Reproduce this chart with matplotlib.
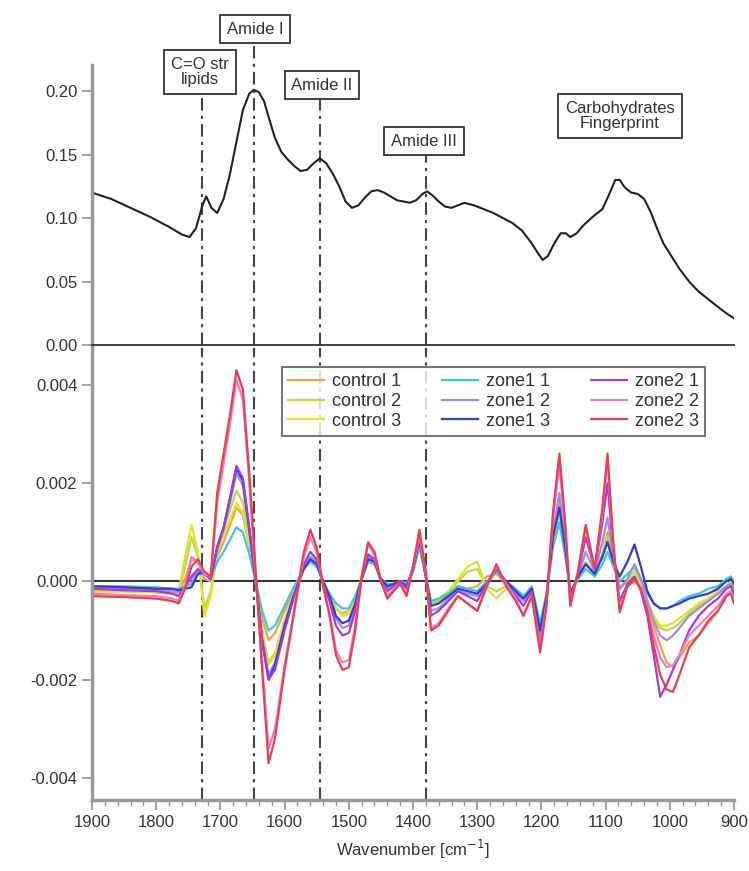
import matplotlib
matplotlib.use("Agg")
import matplotlib.pyplot as plt
import matplotlib.ticker as mticker

plt.rcParams["font.family"] = ["Liberation Sans", "DejaVu Sans"]
plt.rcParams["axes.unicode_minus"] = False

# --- top: mean absorbance spectrum ---
top_wn = [1900, 1870, 1840, 1810, 1780, 1760, 1748, 1738, 1728, 1722,
          1714, 1705, 1695, 1685, 1675, 1665, 1655, 1648, 1640, 1632,
          1624, 1615, 1605, 1595, 1585, 1575, 1565, 1555, 1545, 1535,
          1525, 1515, 1505, 1495, 1485, 1475, 1465, 1455, 1445, 1435,
          1425, 1415, 1405, 1395, 1385, 1378, 1370, 1360, 1350, 1340,
          1330, 1320, 1305, 1290, 1275, 1260, 1245, 1230, 1215, 1205,
          1198, 1190, 1180, 1170, 1162, 1155, 1145, 1135, 1120, 1105,
          1095, 1085, 1078, 1070, 1060, 1050, 1040, 1030, 1020, 1010,
          1000, 985, 970, 955, 940, 925, 912, 900]
top_abs = [0.120, 0.115, 0.108, 0.101, 0.093, 0.087, 0.085, 0.092, 0.110, 0.117,
           0.108, 0.104, 0.115, 0.135, 0.160, 0.185, 0.198, 0.201, 0.199, 0.192,
           0.178, 0.163, 0.152, 0.146, 0.141, 0.137, 0.138, 0.143, 0.147, 0.143,
           0.135, 0.125, 0.113, 0.108, 0.110, 0.116, 0.121, 0.122, 0.120, 0.117,
           0.114, 0.113, 0.112, 0.114, 0.119, 0.121, 0.118, 0.113, 0.109, 0.108,
           0.110, 0.112, 0.110, 0.107, 0.104, 0.100, 0.096, 0.090, 0.080, 0.072,
           0.067, 0.070, 0.080, 0.088, 0.088, 0.085, 0.088, 0.094, 0.101, 0.107,
           0.118, 0.130, 0.130, 0.124, 0.120, 0.119, 0.115, 0.105, 0.092, 0.080,
           0.072, 0.060, 0.050, 0.042, 0.036, 0.030, 0.025, 0.021]

# --- bottom: second derivative spectra (units of 1e-3) ---
wn = [1900, 1850, 1800, 1775, 1765, 1755, 1745, 1735, 1725, 1715,
      1705, 1695, 1685, 1675, 1665, 1655, 1645, 1635, 1625, 1615,
      1600, 1585, 1570, 1560, 1550, 1540, 1530, 1520, 1510, 1500,
      1490, 1480, 1470, 1460, 1450, 1440, 1430, 1420, 1410, 1400,
      1390, 1380, 1372, 1360, 1345, 1330, 1315, 1300, 1285, 1270,
      1255, 1240, 1228, 1215, 1202, 1192, 1182, 1172, 1163, 1155,
      1143, 1131, 1117, 1105, 1097, 1088, 1078, 1066, 1055, 1045,
      1035, 1025, 1015, 1005, 995, 985, 970, 955, 940, 925,
      912, 905, 900]

control1 = [-0.20, -0.20, -0.22, -0.25, -0.25, 0.05, 0.45, 0.40, 0.05, 0.00,
            0.50, 0.80, 1.15, 1.50, 1.35, 0.70, 0.00, -0.75, -1.20, -1.05,
            -0.60, -0.15, 0.30, 0.50, 0.40, 0.00, -0.30, -0.55, -0.65, -0.60,
            -0.35, 0.05, 0.45, 0.40, 0.05, -0.10, -0.05, 0.00, -0.10, 0.20,
            0.75, 0.10, -0.45, -0.40, -0.30, -0.10, -0.15, -0.10, 0.10, 0.15,
            -0.05, -0.20, -0.35, -0.15, -1.00, -0.30, 0.90, 1.60, 0.70, -0.25,
            0.05, 0.35, 0.15, 0.55, 1.00, 0.40, -0.15, 0.00, 0.20, -0.05,
            -0.45, -0.90, -1.30, -1.65, -1.75, -1.55, -1.25, -1.10, -0.85, -0.60,
            -0.30, -0.20, -0.35]
control2 = [-0.20, -0.20, -0.22, -0.25, -0.25, 0.30, 0.90, 0.50, -0.55, -0.20,
            0.70, 1.05, 1.45, 1.85, 1.60, 0.80, 0.00, -1.00, -1.65, -1.45,
            -0.80, -0.20, 0.30, 0.45, 0.35, 0.00, -0.30, -0.55, -0.70, -0.65,
            -0.35, 0.05, 0.40, 0.35, 0.05, -0.10, -0.05, 0.00, -0.05, 0.20,
            0.75, 0.10, -0.45, -0.40, -0.25, 0.00, 0.20, 0.25, -0.10, -0.20,
            -0.10, -0.20, -0.35, -0.15, -0.95, -0.25, 0.80, 1.40, 0.60, -0.25,
            0.05, 0.40, 0.15, 0.55, 0.90, 0.40, -0.10, 0.00, 0.20, -0.05,
            -0.40, -0.75, -0.95, -1.00, -0.95, -0.85, -0.65, -0.50, -0.40, -0.25,
            -0.10, -0.05, -0.20]
control3 = [-0.20, -0.20, -0.22, -0.25, -0.20, 0.50, 1.15, 0.60, -0.70, -0.30,
            0.60, 0.95, 1.25, 1.60, 1.40, 0.75, 0.00, -1.00, -1.70, -1.50,
            -0.80, -0.20, 0.30, 0.45, 0.35, 0.00, -0.30, -0.55, -0.70, -0.65,
            -0.35, 0.05, 0.40, 0.35, 0.05, -0.10, -0.05, 0.00, -0.05, 0.20,
            0.70, 0.10, -0.40, -0.35, -0.20, 0.05, 0.30, 0.40, -0.15, -0.35,
            -0.15, -0.20, -0.35, -0.15, -0.90, -0.25, 0.70, 1.20, 0.55, -0.25,
            0.05, 0.35, 0.15, 0.50, 0.80, 0.35, -0.10, 0.00, 0.20, -0.05,
            -0.40, -0.70, -0.90, -0.90, -0.85, -0.75, -0.60, -0.45, -0.35, -0.20,
            -0.10, 0.00, -0.15]
zone1_1 = [-0.10, -0.10, -0.12, -0.15, -0.15, -0.10, -0.05, 0.15, 0.15, 0.05,
           0.40, 0.60, 0.85, 1.10, 1.00, 0.55, 0.00, -0.60, -1.00, -0.90,
           -0.50, -0.10, 0.25, 0.40, 0.30, 0.00, -0.25, -0.45, -0.55, -0.55,
           -0.30, 0.05, 0.40, 0.35, 0.05, -0.05, -0.05, 0.00, -0.05, 0.20,
           0.70, 0.10, -0.40, -0.35, -0.25, -0.10, -0.15, -0.20, 0.00, 0.20,
           0.00, -0.15, -0.30, -0.10, -0.85, -0.25, 0.70, 1.20, 0.55, -0.20,
           0.05, 0.25, 0.10, 0.35, 0.60, 0.30, 0.00, 0.15, 0.30, 0.05,
           -0.25, -0.45, -0.55, -0.55, -0.50, -0.40, -0.30, -0.25, -0.15, -0.10,
           0.05, 0.10, 0.00]
zone1_2 = [-0.15, -0.15, -0.18, -0.20, -0.22, -0.10, 0.05, 0.20, 0.15, 0.05,
           0.65, 1.05, 1.60, 2.20, 1.95, 1.00, 0.00, -1.15, -1.90, -1.65,
           -0.90, -0.25, 0.30, 0.50, 0.40, -0.05, -0.35, -0.75, -0.95, -0.90,
           -0.50, 0.05, 0.50, 0.40, 0.00, -0.15, -0.10, 0.00, -0.10, 0.25,
           0.80, 0.10, -0.60, -0.55, -0.35, -0.20, -0.25, -0.30, -0.05, 0.25,
           -0.05, -0.25, -0.40, -0.15, -1.10, -0.35, 1.00, 1.80, 0.80, -0.30,
           0.10, 0.60, 0.20, 0.80, 1.30, 0.50, -0.15, 0.05, 0.35, 0.05,
           -0.40, -0.80, -1.10, -1.20, -1.10, -0.95, -0.70, -0.55, -0.40, -0.25,
           -0.10, -0.05, -0.15]
zone1_3 = [-0.10, -0.12, -0.15, -0.15, -0.18, -0.15, -0.12, 0.15, 0.20, 0.05,
           0.70, 1.10, 1.70, 2.30, 2.05, 1.05, 0.00, -1.20, -2.00, -1.70,
           -0.90, -0.25, 0.25, 0.45, 0.35, 0.00, -0.30, -0.70, -0.85, -0.80,
           -0.45, 0.05, 0.45, 0.40, 0.05, -0.10, -0.05, 0.00, -0.10, 0.25,
           0.85, 0.10, -0.50, -0.45, -0.30, -0.15, -0.20, -0.25, -0.05, 0.25,
           0.00, -0.20, -0.35, -0.15, -1.00, -0.30, 0.90, 1.50, 0.70, -0.25,
           0.10, 0.35, 0.15, 0.50, 0.80, 0.40, 0.10, 0.40, 0.75, 0.30,
           -0.20, -0.45, -0.55, -0.55, -0.50, -0.45, -0.35, -0.30, -0.25, -0.15,
           0.00, 0.05, -0.05]
zone2_1 = [-0.15, -0.18, -0.20, -0.25, -0.30, -0.10, 0.10, 0.25, 0.15, 0.05,
           0.70, 1.10, 1.70, 2.35, 2.10, 1.10, 0.05, -1.20, -2.00, -1.80,
           -1.00, -0.30, 0.35, 0.60, 0.45, -0.05, -0.40, -0.90, -1.10, -1.05,
           -0.60, 0.05, 0.55, 0.45, 0.00, -0.20, -0.10, 0.00, -0.15, 0.30,
           0.90, 0.10, -0.70, -0.60, -0.40, -0.20, -0.30, -0.40, -0.05, 0.30,
           -0.05, -0.30, -0.50, -0.20, -1.30, -0.40, 1.30, 2.50, 1.10, -0.40,
           0.15, 0.90, 0.25, 1.20, 2.00, 0.60, -0.40, -0.05, 0.10, -0.20,
           -0.70, -1.50, -2.35, -2.10, -1.80, -1.50, -1.00, -0.70, -0.50, -0.35,
           -0.15, -0.10, -0.25]
zone2_2 = [-0.25, -0.28, -0.30, -0.35, -0.40, -0.10, 0.50, 0.40, 0.15, 0.10,
           1.60, 2.40, 3.20, 4.10, 3.70, 2.00, 0.10, -1.70, -3.40, -3.00,
           -1.70, -0.60, 0.50, 0.90, 0.60, -0.10, -0.65, -1.40, -1.65, -1.60,
           -0.90, 0.10, 0.75, 0.55, 0.00, -0.30, -0.15, -0.05, -0.25, 0.30,
           0.95, 0.15, -0.95, -0.85, -0.55, -0.30, -0.45, -0.60, -0.10, 0.30,
           -0.05, -0.35, -0.70, -0.30, -1.35, -0.45, 1.30, 2.40, 1.10, -0.45,
           0.20, 1.10, 0.25, 1.40, 2.50, 0.70, -0.55, -0.10, 0.00, -0.15,
           -0.55, -1.10, -1.55, -1.75, -1.70, -1.50, -1.10, -0.90, -0.70, -0.50,
           -0.25, -0.20, -0.35]
zone2_3 = [-0.30, -0.32, -0.35, -0.40, -0.45, -0.15, 0.30, 0.45, 0.20, 0.10,
           1.80, 2.60, 3.40, 4.30, 3.90, 2.20, 0.20, -1.80, -3.70, -3.20,
           -1.80, -0.60, 0.60, 1.05, 0.70, -0.10, -0.70, -1.50, -1.80, -1.75,
           -1.00, 0.10, 0.80, 0.60, 0.00, -0.35, -0.20, -0.05, -0.30, 0.30,
           1.05, 0.20, -1.00, -0.90, -0.60, -0.30, -0.45, -0.60, -0.10, 0.35,
           -0.10, -0.40, -0.70, -0.30, -1.45, -0.50, 1.40, 2.60, 1.20, -0.50,
           0.20, 1.15, 0.25, 1.50, 2.60, 0.80, -0.63, -0.10, 0.05, -0.15,
           -0.60, -1.30, -1.90, -2.20, -2.25, -1.90, -1.35, -1.10, -0.80, -0.60,
           -0.30, -0.25, -0.45]

series_names = ["control 1", "control 2", "control 3",
                "zone1 1", "zone1 2", "zone1 3",
                "zone2 1", "zone2 2", "zone2 3"]
series_data = [control1, control2, control3, zone1_1, zone1_2, zone1_3,
               zone2_1, zone2_2, zone2_3]
series_colors = ["#f0a050", "#b5dd48", "#e2e22a",
                 "#3fc4e0", "#a08ee6", "#3a3ac4",
                 "#a43cd2", "#f27cc4", "#e8404e"]

band_wn = [1729, 1647, 1545, 1380]

W, H = 749, 871
TXT = "#333333"
SPINE = "#9a9a9a"


def px_rect(x0, y0, x1, y1):
    return [x0 / W, 1 - y1 / H, (x1 - x0) / W, (y1 - y0) / H]


fig = plt.figure(figsize=(W / 100, H / 100), dpi=100)
ax_top = fig.add_axes(px_rect(92, 65, 734, 345))
ax_bot = fig.add_axes(px_rect(92, 348, 734, 800))

# top panel
ax_top.plot(top_wn, top_abs, color="#222222", lw=1.5)
ax_top.set_xlim(1900, 900)
ax_top.set_ylim(0, 0.2205)
ax_top.yaxis.set_major_locator(mticker.MultipleLocator(0.05))
ax_top.yaxis.set_major_formatter(mticker.StrMethodFormatter("{x:.2f}"))
ax_top.tick_params(axis="x", bottom=False, labelbottom=False)
for s in ("top", "right"):
    ax_top.spines[s].set_visible(False)
ax_top.spines["left"].set_color(SPINE)
ax_top.spines["left"].set_linewidth(2.5)
ax_top.spines["bottom"].set_color("#333333")
ax_top.spines["bottom"].set_linewidth(1.3)

# bottom panel
ax_bot.axhline(0, color="#333333", lw=1.5, zorder=1)
for name, vals, col in zip(series_names, series_data, series_colors):
    ax_bot.plot(wn, [v * 1e-3 for v in vals], color=col, lw=1.6, label=name, zorder=2)
ax_bot.set_xlim(1900, 900)
ax_bot.set_ylim(-0.00445, 0.00475)
ax_bot.yaxis.set_major_locator(mticker.MultipleLocator(0.002))
ax_bot.yaxis.set_major_formatter(mticker.StrMethodFormatter("{x:.3f}"))
ax_bot.xaxis.set_major_locator(mticker.MultipleLocator(100))
ax_bot.xaxis.set_minor_locator(mticker.MultipleLocator(20))
for s in ("top", "right"):
    ax_bot.spines[s].set_visible(False)
for s in ("left", "bottom"):
    ax_bot.spines[s].set_color(SPINE)
    ax_bot.spines[s].set_linewidth(2.5)
ax_bot.set_xlabel("Wavenumber [cm$^{-1}$]", fontsize=12, color=TXT, labelpad=6)

for ax in (ax_top, ax_bot):
    ax.tick_params(which="major", direction="out", length=7, width=1.3,
                   color=SPINE, labelcolor=TXT, labelsize=12)
    ax.tick_params(which="minor", direction="out", length=4, width=1.0, color=SPINE)

# band marker lines (dash-dot), running down from each label box
band_top_frac = [0.886, 1.071, 0.875, 0.678]
dash = (0, (6, 2.5, 1.5, 2.5))
for x, frac in zip(band_wn, band_top_frac):
    ax_top.axvline(x, ymin=0, ymax=frac, color="#444444", lw=1.5,
                   linestyle=dash, clip_on=False, zorder=0)
    ax_bot.axvline(x, color="#444444", lw=1.5, linestyle=dash, zorder=0)

leg = ax_bot.legend(loc="upper left", bbox_to_anchor=(0.296, 0.958), ncol=3,
                    fontsize=13, frameon=True, fancybox=False, borderaxespad=0,
                    handlelength=2.0, handletextpad=0.4, columnspacing=2.3,
                    labelspacing=0.15, borderpad=0.35)
leg.get_frame().set_edgecolor("#555555")
leg.get_frame().set_linewidth(1.5)
for t in leg.get_texts():
    t.set_color(TXT)

box = dict(boxstyle="square,pad=0.4", fc="white", ec="#333333", lw=1.3)
labels = [("Amide I", 255, 29), ("C=O str\nlipids", 200, 72),
          ("Amide II", 322, 85), ("Amide III", 424, 141),
          ("Carbohydrates\nFingerprint", 620, 116)]
for text, x, y in labels:
    fig.text(x / W, 1 - y / H, text, ha="center", va="center", fontsize=12,
             color=TXT, bbox=box, linespacing=1.05)

fig.savefig("out.png", dpi=100)
